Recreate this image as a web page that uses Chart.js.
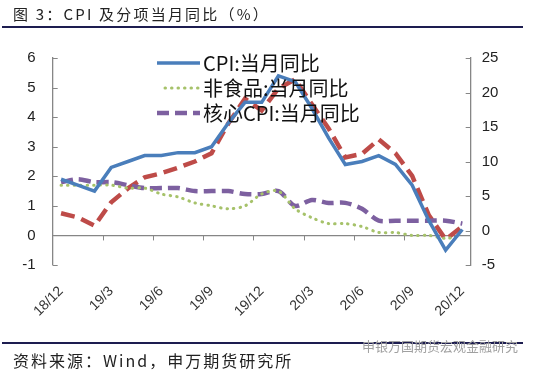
<!DOCTYPE html>
<html>
<head>
<meta charset="utf-8">
<script src="https://cdn.jsdelivr.net/npm/chart.js@4.4.1/dist/chart.umd.min.js"></script>
<style>
    body { margin: 0; background: #fff; }
    #wrap { position: relative; width: 536px; height: 373px; overflow: hidden; background: #fff; font-family: "Noto Sans CJK SC", sans-serif; }
    #chart { position: absolute; left: 0; top: 0; }
    .title { position: absolute; left: 13px; top: 3px; font-size: 15px; letter-spacing: 2.2px; color: #222; white-space: nowrap; }
    .rule { position: absolute; left: 2px; width: 521px; height: 2px; background: #1d1d50; }
    .source { position: absolute; left: 13px; top: 348px; font-size: 16px; letter-spacing: 2px; color: #222; white-space: nowrap; }
    .mark { position: absolute; left: 362px; top: 336px; font-size: 13px; color: #a0a0a0; white-space: nowrap; }
    #legend { position: absolute; left: 157px; top: 50px; }
    .row { display: flex; align-items: center; height: 25px; }
    .row span { font-size: 20px; color: #111; margin-left: 3px; line-height: 25px; white-space: nowrap; }
</style>
</head>
<body>
<div id="wrap">
    <canvas id="chart" width="536" height="373"></canvas>
    <div class="title">图 3：CPI 及分项当月同比（%）</div>
    <div class="rule" style="top:26px"></div>
    <div id="legend"></div>
    <div class="rule" style="top:342px"></div>
    <div class="mark">申银万国期货宏观金融研究</div>
    <div class="source">资料来源：Wind，申万期货研究所</div>
</div>
<script>
const months = ["18/12", "19/1", "19/2", "19/3", "19/4", "19/5", "19/6", "19/7", "19/8", "19/9", "19/10", "19/11",
    "19/12", "20/1", "20/2", "20/3", "20/4", "20/5", "20/6", "20/7", "20/8", "20/9", "20/10", "20/11", "20/12"];
const cpi = [1.9, 1.7, 1.5, 2.3, 2.5, 2.7, 2.7, 2.8, 2.8, 3.0, 3.8, 4.5, 4.5, 5.4, 5.2, 4.3, 3.3, 2.4, 2.5, 2.7, 2.4, 1.7, 0.5, -0.5, 0.2];
const nonFood = [1.7, 1.7, 1.7, 1.7, 1.6, 1.6, 1.4, 1.3, 1.1, 1.0, 0.9, 1.0, 1.4, 1.5, 0.9, 0.6, 0.4, 0.4, 0.3, 0.1, 0.1, 0.0, 0.0, -0.1, 0.0];
const core = [1.8, 1.9, 1.8, 1.8, 1.7, 1.6, 1.6, 1.6, 1.5, 1.5, 1.5, 1.4, 1.4, 1.5, 1.0, 1.2, 1.1, 1.1, 0.9, 0.5, 0.5, 0.5, 0.5, 0.5, 0.4];
const food = [2.5, 1.9, 0.7, 4.1, 6.1, 7.7, 8.3, 9.1, 10.0, 11.2, 15.5, 19.1, 17.4, 20.6, 21.9, 18.3, 14.8, 10.6, 11.1, 13.2, 11.2, 7.9, 2.2, -1.3, 0.6];
const leftTicks = { min: -1, max: 6, step: 1 };
const rightTicks = { min: -5, max: 25, step: 5 };

const axisGray = "#868686";
const tickFont = { family: "'Liberation Sans', sans-serif", size: 15 };

const datasets = [
    { label: "CPI:当月同比", data: cpi, borderColor: "#4A7EBB", borderWidth: 3.5, yAxisID: "y", tension: 0, showLegend: true },
    { label: "非食品:当月同比", data: nonFood, borderColor: "#A6C26A", borderWidth: 3, borderDash: [0.5, 6], borderCapStyle: "round", yAxisID: "y", tension: 0.3, showLegend: true },
    { label: "核心CPI:当月同比", data: core, borderColor: "#7D60A0", borderWidth: 4.5, borderDash: [12, 6], yAxisID: "y", tension: 0.3, showLegend: true },
    { label: "食品:当月同比", data: food, borderColor: "#BE4B48", borderWidth: 4.5, borderDash: [14, 7], yAxisID: "y1", tension: 0, showLegend: false }
];
datasets.forEach(d => { d.pointRadius = 0; d.fill = false; });

// small inward tick marks on both y axes, and downward ticks on the zero line
const tickMarks = {
    id: "tickMarks",
    beforeDatasetsDraw(chart) {
        const { ctx, chartArea, scales } = chart;
        ctx.save();
        ctx.strokeStyle = axisGray;
        ctx.lineWidth = 1;
        ctx.beginPath();
        scales.y.ticks.forEach(t => {
            const py = Math.round(scales.y.getPixelForValue(t.value)) + 0.5;
            ctx.moveTo(chartArea.left, py);
            ctx.lineTo(chartArea.left + 5, py);
        });
        scales.y1.ticks.forEach(t => {
            const py = Math.round(scales.y1.getPixelForValue(t.value)) + 0.5;
            ctx.moveTo(chartArea.right - 5, py);
            ctx.lineTo(chartArea.right, py);
        });
        const y0 = scales.y.getPixelForValue(0);
        for (let i = 3; i < months.length; i += 3) {
            const px = Math.round((scales.x.getPixelForValue(i - 1) + scales.x.getPixelForValue(i)) / 2) + 0.5;
            ctx.moveTo(px, y0);
            ctx.lineTo(px, y0 + 5);
        }
        ctx.stroke();
        ctx.restore();
    }
};

new Chart(document.getElementById("chart"), {
    type: "line",
    data: { labels: months, datasets: datasets },
    options: {
        responsive: false,
        animation: false,
        devicePixelRatio: 1,
        layout: { padding: { top: 58, left: 12.7, right: 25.3, bottom: 0 } },
        plugins: { legend: { display: false }, tooltip: { enabled: false } },
        scales: {
            x: {
                offset: true,
                grid: { display: false },
                border: { display: false },
                ticks: {
                    autoSkip: false, minRotation: 45, maxRotation: 45, padding: 10,
                    color: "#333", font: { family: "'Liberation Sans', sans-serif", size: 14 },
                    callback: (v, i) => (i % 3 === 0 ? months[i] : "")
                },
                afterFit: s => { s.height = 108; }
            },
            y: {
                position: "left",
                min: leftTicks.min, max: leftTicks.max,
                ticks: { stepSize: leftTicks.step, padding: 17, color: "#222", font: tickFont },
                grid: { drawTicks: false, color: c => (c.tick && c.tick.value === 0 ? axisGray : "rgba(0,0,0,0)"), lineWidth: 1.3 },
                border: { color: axisGray, width: 1.3 },
                afterFit: s => { s.width = 40; }
            },
            y1: {
                position: "right",
                min: rightTicks.min, max: rightTicks.max,
                ticks: { stepSize: rightTicks.step, padding: 11, color: "#222", font: tickFont },
                grid: { drawOnChartArea: false, drawTicks: false },
                border: { color: axisGray, width: 1.3 },
                afterFit: s => { s.width = 40; }
            }
        }
    },
    plugins: [tickMarks]
});

// html legend built from the datasets
const legend = document.getElementById("legend");
datasets.filter(d => d.showLegend).forEach(d => {
    const row = document.createElement("div");
    row.className = "row";
    const dash = d.borderDash ? d.borderDash.join(",") : "none";
    const cap = d.borderCapStyle === "round" ? "round" : "butt";
    row.innerHTML = '<svg width="43" height="10"><line x1="' + (cap === "round" ? 8 : 0) + '" y1="5" x2="43" y2="5" stroke="' + d.borderColor +
        '" stroke-width="' + d.borderWidth + '" stroke-dasharray="' + dash + '" stroke-linecap="' + cap + '"/></svg><span>' + d.label + "</span>";
    legend.appendChild(row);
});
</script>
</body>
</html>
